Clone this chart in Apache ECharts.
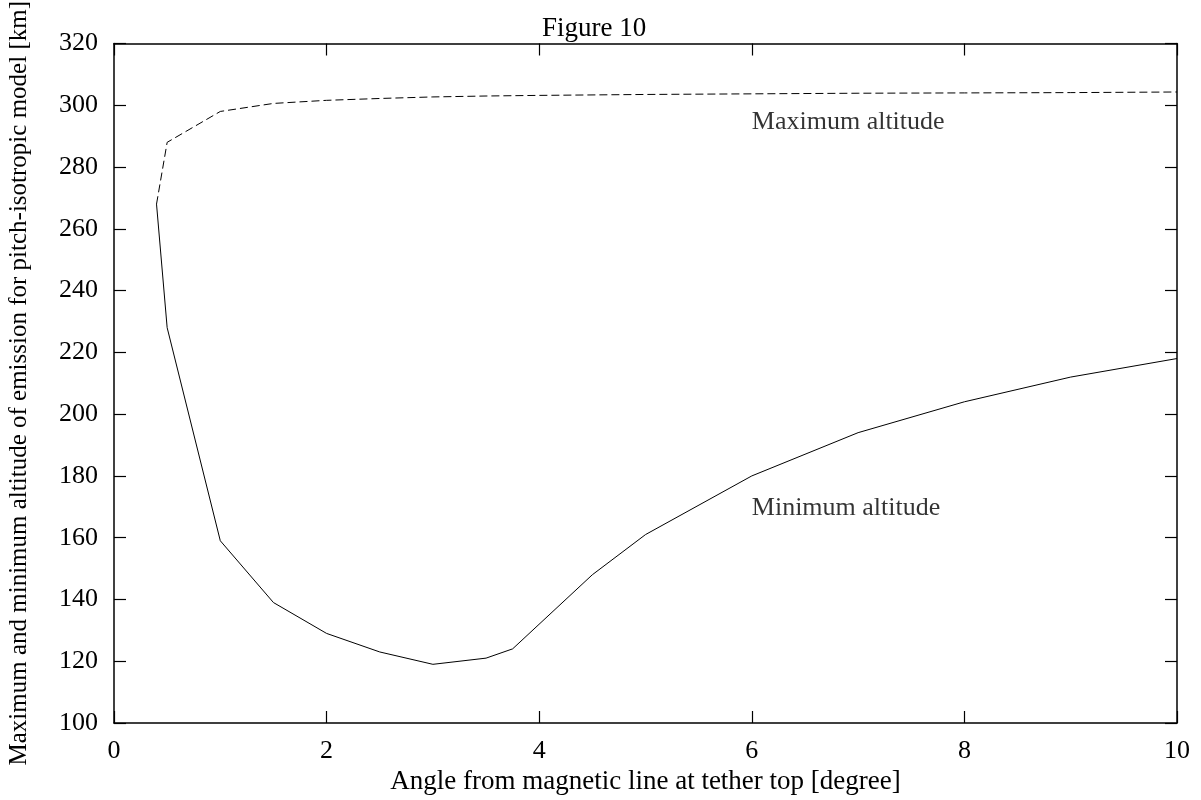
<!DOCTYPE html>
<html>
<head>
<meta charset="utf-8">
<script src="https://cdn.jsdelivr.net/npm/echarts@6/dist/echarts.min.js"></script>
<style>html,body{margin:0;padding:0;background:#fff}#c{width:1201px;height:800px}</style>
</head>
<body>
<div id="c"></div>
<script>
const maxX = [0.4, 0.5, 1, 1.5, 2, 2.5, 3, 3.5, 4, 5, 6, 7, 8, 9, 10];
const maxY = [268, 288, 298, 300.6, 301.6, 302.2, 302.7, 303.0, 303.2, 303.5, 303.7, 303.9, 304.0, 304.1, 304.3];
const minX = [0.4, 0.5, 1, 1.5, 2, 2.5, 3, 3.5, 3.75, 4.5, 5, 6, 7, 8, 9, 10];
const minY = [268, 228, 159, 139, 129, 123, 119, 121, 124, 148, 161, 180, 194, 204, 212, 218];
const xTicks = [0, 2, 4, 6, 8, 10];
const yTicks = [100, 120, 140, 160, 180, 200, 220, 240, 260, 280, 300, 320];
const labelText = ['Maximum altitude', 'Minimum altitude'];
const labelX = [6.0, 6.0];
const labelY = [294.4, 169.4];

const font = 'Liberation Serif';
const chart = echarts.init(document.getElementById('c'), null, {renderer: 'canvas'});
const axisLine = () => ({show: true, onZero: false, lineStyle: {color: '#000', width: 1.5}});
const tick = () => ({show: true, inside: true, length: 12, lineStyle: {color: '#000', width: 1.2}});
chart.setOption({
  animation: false,
  backgroundColor: '#fff',
  title: {
    text: 'Figure 10', left: 537, top: 10,
    textStyle: {fontFamily: font, fontSize: 27, fontWeight: 'normal', color: '#000'}
  },
  grid: {left: 114, right: 24, top: 43.5, bottom: 77, containLabel: false, outerBoundsMode: 'none'},
  xAxis: [{
    type: 'value', min: 0, max: 10, interval: 2, position: 'bottom',
    name: 'Angle from magnetic line at tether top [degree]',
    nameLocation: 'middle', nameGap: 27,
    nameTextStyle: {fontFamily: font, fontSize: 27, color: '#000'},
    axisLine: axisLine(), axisTick: tick(), splitLine: {show: false},
    axisLabel: {fontFamily: font, fontSize: 26, color: '#000', margin: 15,
      formatter: v => xTicks.includes(v) ? String(v) : ''}
  }, {
    type: 'value', min: 0, max: 10, interval: 2, position: 'top',
    axisLine: axisLine(), axisTick: tick(), axisLabel: {show: false}, splitLine: {show: false}
  }],
  yAxis: [{
    type: 'value', min: 100, max: 320, interval: 20, position: 'left',
    name: 'Maximum and minimum altitude of emission for pitch-isotropic model [km]',
    nameLocation: 'middle', nameGap: 82, nameRotate: 90,
    nameTextStyle: {fontFamily: font, fontSize: 25, color: '#000'},
    axisLine: axisLine(), axisTick: tick(), splitLine: {show: false},
    axisLabel: {fontFamily: font, fontSize: 26, color: '#000', margin: 16,
      formatter: v => yTicks.includes(v) ? String(v) : ''}
  }, {
    type: 'value', min: 100, max: 320, interval: 20, position: 'right',
    axisLine: axisLine(), axisTick: tick(), axisLabel: {show: false}, splitLine: {show: false}
  }],
  series: [{
    type: 'line', name: 'max', symbol: 'none',
    data: maxX.map((x, i) => [x, maxY[i]]),
    lineStyle: {color: '#000', width: 1, type: [8, 4]}
  }, {
    type: 'line', name: 'min', symbol: 'none',
    data: minX.map((x, i) => [x, minY[i]]),
    lineStyle: {color: '#000', width: 1}
  }, {
    type: 'scatter', name: 'labels', symbolSize: 0,
    itemStyle: {color: '#000'},
    data: labelX.map((x, i) => ({value: [x, labelY[i]], name: labelText[i]})),
    label: {show: true, position: 'right', distance: 0, fontFamily: font, fontSize: 26, color: '#000', formatter: p => p.name}
  }]
});
</script>
</body>
</html>
